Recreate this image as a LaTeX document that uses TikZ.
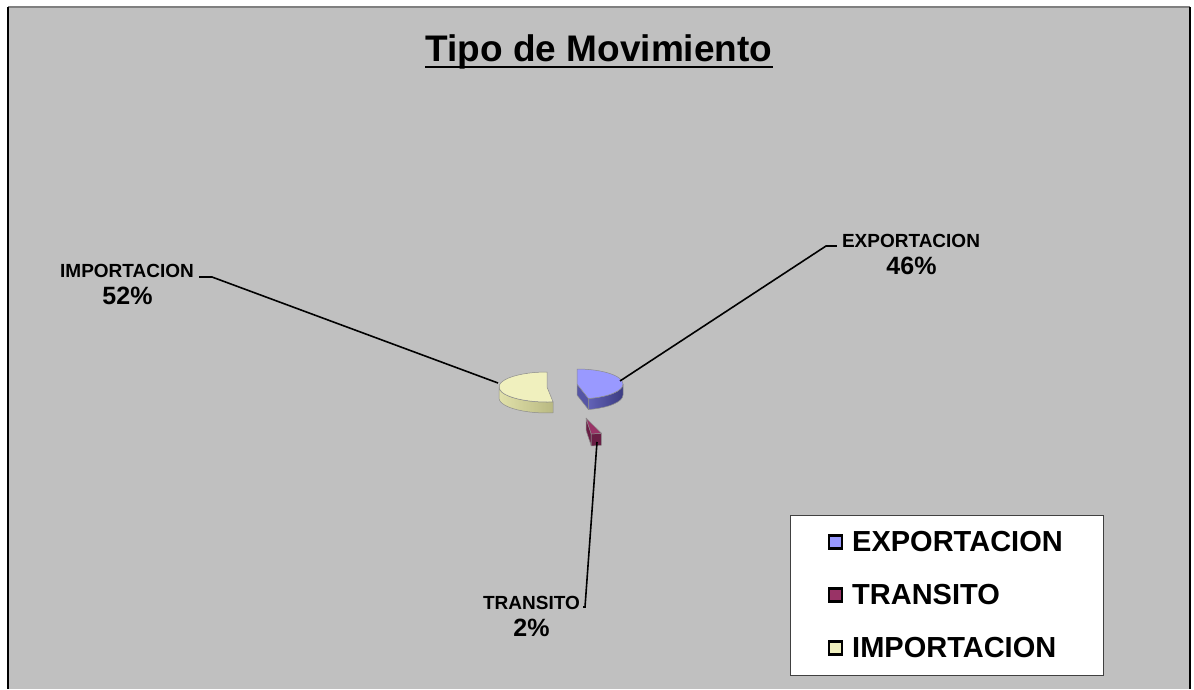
\documentclass[tikz,border=0pt]{standalone}
\usepackage{fontspec}
\setmainfont{Liberation Sans}
\definecolor{chartgray}{RGB}{192,192,192}
\definecolor{ExpTop}{RGB}{153,153,255}
\definecolor{ExpSideA}{RGB}{110,110,200}
\definecolor{ExpSideB}{RGB}{60,60,130}
\definecolor{ExpCut}{RGB}{85,85,165}
\definecolor{TraTop}{RGB}{153,51,102}
\definecolor{TraSide}{RGB}{105,30,68}
\definecolor{ImpTop}{RGB}{240,240,190}
\definecolor{ImpSideA}{RGB}{225,225,170}
\definecolor{ImpSideB}{RGB}{185,185,130}
\begin{document}
\begin{tikzpicture}[x=1pt, y=-1pt,
  slice/.style = {draw=black!45, line width=0.5pt, line join=round},
  slicelabel/.style = {font=\fontsize{19}{22}\selectfont\bfseries, inner sep=0pt},
  percent/.style = {font=\fontsize{25}{28}\selectfont\bfseries, inner sep=0pt},
  leader/.style = {draw=black, line width=1.6pt},
  keybox/.style = {rectangle, draw=black, line width=2.6pt, minimum size=13pt, inner sep=0pt},
  keytext/.style = {anchor=west, font=\fontsize{29}{32}\selectfont\bfseries, inner sep=0pt}]
  % Chart area.
  \useasboundingbox (0, 0) rectangle (1194, 689);
  \fill [chartgray] (8, 7) rectangle (1190, 689);
  \draw [black!50, line width=1.5pt] (8, 7) -- (1190, 7);
  \draw [black, line width=1.5pt] (8, 7) -- (8, 689);
  \draw [black, line width=1.5pt] (1190, 7) -- (1190, 689);

  % Title.
  \node at (599, 61) [anchor=base, inner sep=0pt, font=\fontsize{37}{40}\selectfont\bfseries, name=Title] {Tipo de Movimiento};
  \draw [line width=2.5pt] ([yshift=-6pt]Title.base west) to ([yshift=-6pt]Title.base east);

  % Slices.
  \coordinate (ExportacionCenter) at (577, 384);
  \coordinate (TransitoCenter) at (586, 418);
  \coordinate (ImportacionCenter) at (547, 387);

  \draw [slice, left color=ExpSideA, right color=ExpSideB]
        (ExportacionCenter) ++(0:46 and 15)
        arc [start angle=0, end angle=75.6, x radius=46, y radius=15]
        -- ++(0, 11)
        arc [start angle=75.6, end angle=0, x radius=46, y radius=15] -- cycle;
  \draw [slice, fill=ExpCut]
        (ExportacionCenter) -- ++(75.6:46 and 15) -- ++(0, 11)
        -- ([yshift=-11pt]ExportacionCenter) -- cycle;
  \draw [slice, fill=ExpTop]
        (ExportacionCenter) -- ++(-90:46 and 15)
        arc [start angle=-90, end angle=75.6, x radius=46, y radius=15] -- cycle;

  \draw [slice, fill=TraSide]
        (TransitoCenter) ++(72:50 and 16)
        arc [start angle=72, end angle=84, x radius=50, y radius=16]
        -- ++(0, 12)
        arc [start angle=84, end angle=72, x radius=50, y radius=16] -- cycle;
  \draw [slice, fill=TraSide]
        (TransitoCenter) -- ++(84:50 and 16) -- ++(0, 12)
        -- ([yshift=-12pt]TransitoCenter) -- cycle;
  \draw [slice, fill=TraTop]
        (TransitoCenter) -- ++(72:50 and 16)
        arc [start angle=72, end angle=84, x radius=50, y radius=16] -- cycle;

  \draw [slice, left color=ImpSideA, right color=ImpSideB]
        (ImportacionCenter) ++(82.8:48 and 15)
        arc [start angle=82.8, end angle=180, x radius=48, y radius=15]
        -- ++(0, 11)
        arc [start angle=180, end angle=82.8, x radius=48, y radius=15] -- cycle;
  \draw [slice, fill=ImpTop]
        (ImportacionCenter) -- ++(82.8:48 and 15)
        arc [start angle=82.8, end angle=270, x radius=48, y radius=15] -- cycle;

  % Data labels.
  \node at (911, 240.5) [slicelabel, name=ExportacionName] {EXPORTACION};
  \node at (911.5, 266) [percent, name=ExportacionPct] {46\%};
  \node at (127, 270.5) [slicelabel, name=ImportacionName] {IMPORTACION};
  \node at (127.5, 296) [percent, name=ImportacionPct] {52\%};
  \node at (531.5, 603) [slicelabel, name=TransitoName] {TRANSITO};
  \node at (531.5, 628) [percent, name=TransitoPct] {2\%};

  % Leader lines.
  \coordinate (ExportacionTip) at (620, 381);
  \coordinate (ExportacionBend) at (826, 246);
  \coordinate (ImportacionTip) at (498, 383);
  \coordinate (ImportacionBend) at (212, 277);
  \coordinate (TransitoTip) at (597, 442);
  \coordinate (TransitoBend) at (585, 607);
  \draw [leader] (ExportacionTip)
             to (ExportacionBend)
             to ([xshift=-5pt]ExportacionName.west |- ExportacionBend);
  \draw [leader] (ImportacionTip)
             to (ImportacionBend)
             to ([xshift=5pt]ImportacionName.east |- ImportacionBend);
  \draw [leader] (TransitoTip)
             to (TransitoBend)
             to ([xshift=3pt]TransitoName.east |- TransitoBend);

  % Legend.
  \node at (946.5, 595) [rectangle, draw=black!75, fill=white, line width=1pt, minimum width=313, minimum height=160, name=Legend] {};
  \node at (835.5, 542) [keybox, fill=ExpTop, name=ExportacionKey] {};
  \node at (835.5, 595) [keybox, fill=TraTop, name=TransitoKey] {};
  \node at (835.5, 648) [keybox, fill=ImpTop, name=ImportacionKey] {};
  \node at (852, 542) [keytext, name=ExportacionEntry] {EXPORTACION};
  \node at (852, 595) [keytext, name=TransitoEntry] {TRANSITO};
  \node at (852, 648) [keytext, name=ImportacionEntry] {IMPORTACION};
\end{tikzpicture}
\end{document}
